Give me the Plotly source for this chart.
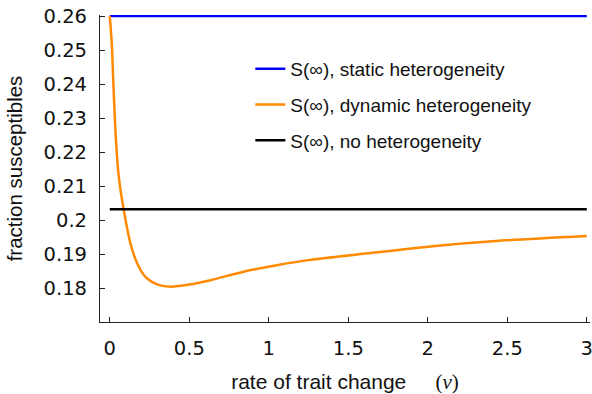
import plotly.graph_objects as go

# ---- data ----
nu_dyn = [0, 0.0126, 0.021, 0.0295, 0.040, 0.0565, 0.088, 0.130, 0.172, 0.224,
          0.308, 0.382, 0.5, 0.633, 0.842, 1.05, 1.25, 1.62, 2.03, 2.45, 3.0]
s_dyn = [0.26, 0.2518, 0.2420, 0.2323, 0.2225, 0.2127, 0.2029, 0.1931, 0.1873, 0.1833,
         0.1809, 0.1804, 0.1810, 0.1823, 0.1848, 0.1867, 0.1882, 0.1902, 0.1923, 0.1939, 0.1953]
nu_flat = [0, 3.0]
s_static = [0.26, 0.26]
s_none = [0.2032, 0.2032]

x_ticks = [0, 0.5, 1, 1.5, 2, 2.5, 3]
x_ticklabels = ["0", "0.5", "1", "1.5", "2", "2.5", "3"]
y_ticks = [0.18, 0.19, 0.20, 0.21, 0.22, 0.23, 0.24, 0.25, 0.26]
y_ticklabels = ["0.18", "0.19", "0.2", "0.21", "0.22", "0.23", "0.24", "0.25", "0.26"]

names = ["S(∞), static heterogeneity", "S(∞), dynamic heterogeneity", "S(∞), no heterogeneity"]

fig = go.Figure()
fig.add_trace(go.Scatter(x=nu_flat, y=s_static, mode="lines", name=names[0],
                         line=dict(color="#0000FF", width=2.5), legendgroup="a"))
fig.add_trace(go.Scatter(x=nu_dyn, y=s_dyn, mode="lines", name=names[1],
                         line=dict(color="#FF8A00", width=2.5, shape="spline", smoothing=0.8),
                         legendgroup="b"))
fig.add_trace(go.Scatter(x=nu_flat, y=s_none, mode="lines", name=names[2],
                         line=dict(color="#000000", width=2.5), legendgroup="c"))

tickfont = dict(family="DejaVu Sans", size=19.5, color="#111111")
ytitlefont = dict(family="Liberation Sans, Arial", size=20.5, color="#111111")
xtitlefont = dict(family="Liberation Sans, Arial", size=21, color="#111111")

fig.update_layout(
    width=592, height=394,
    margin=dict(l=99.5, r=2, t=15, b=72, autoexpand=False),
    paper_bgcolor="white", plot_bgcolor="white",
    showlegend=True,
    legend=dict(x=0.3068, y=0.886, xanchor="left", yanchor="top",
                font=dict(family="Liberation Sans, Arial", size=19, color="#111111"),
                bgcolor="rgba(0,0,0,0)", traceorder="grouped", tracegroupgap=8),
    xaxis=dict(range=[-0.0616, 3.02], tickvals=x_ticks, ticktext=x_ticklabels,
               ticks="inside", ticklen=5, tickcolor="#222", tickwidth=1,
               showline=True, linecolor="#222", linewidth=1.2, showgrid=False, zeroline=False,
               tickfont=tickfont, ticklabelstandoff=8, automargin=False,
               ticklabeloverflow="allow",
               title=dict(text="rate of trait change&nbsp;&nbsp;&nbsp;&nbsp;&nbsp;"
                               "<span style=\"font-family:'Liberation Serif'\">(<i>ν</i>)</span>",
                          font=xtitlefont)),
    yaxis=dict(range=[0.17, 0.2603], tickvals=y_ticks, ticktext=y_ticklabels,
               ticks="inside", ticklen=5, tickcolor="#222", tickwidth=1,
               showline=True, linecolor="#222", linewidth=1.2, showgrid=False, zeroline=False,
               tickfont=tickfont, ticklabelstandoff=8, automargin=False,
               ticklabeloverflow="allow",
               title=dict(text="fraction susceptibles", font=ytitlefont)),
)

fig.write_html("out.html", config={"displayModeBar": False},
               post_script="document.body.style.margin='0';document.body.style.overflow='hidden';")
